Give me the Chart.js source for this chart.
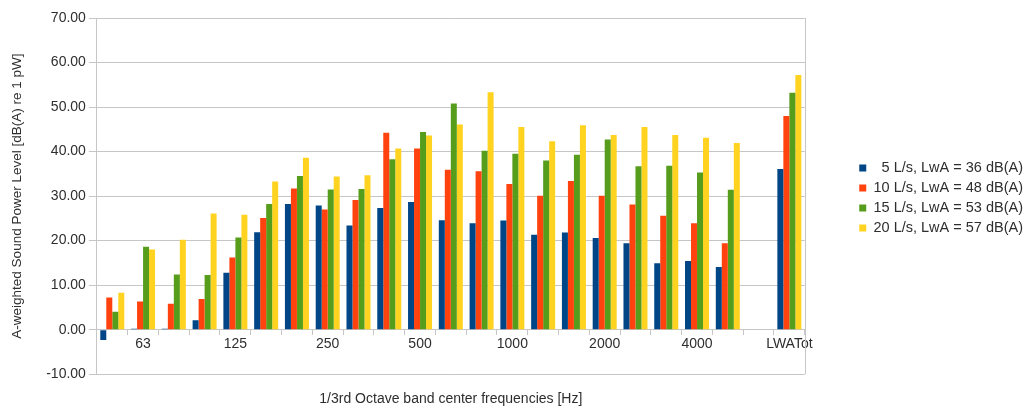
<!DOCTYPE html>
<html>
<head>
<meta charset="utf-8">
<title>A-weighted sound power level per 1/3 octave band</title>
<script src="https://cdn.jsdelivr.net/npm/chart.js@4.4.1/dist/chart.umd.min.js"></script>
<style>
  html, body { margin: 0; padding: 0; background: #ffffff; }
  canvas { display: block; }
</style>
</head>
<body>
<canvas id="lwaChart" width="1028" height="410"></canvas>
<script>
// 1/3 octave band centre frequencies (Hz); the blank slot is the gap before the total
const bands = ['50', '63', '80', '100', '125', '160', '200', '250', '315', '400', '500', '630',
    '800', '1000', '1250', '1600', '2000', '2500', '3150', '4000', '5000', '', 'LWATot'];

// dB(A) re 1 pW, one array per airflow
const flow5 = [-2.3, 0.2, 0.2, 2.1, 12.8, 21.9, 28.2, 27.9, 23.4, 27.3, 28.7, 24.6,
    23.9, 24.5, 21.3, 21.8, 20.6, 19.4, 14.9, 15.4, 14.1, null, 36.1];
const flow10 = [7.2, 6.3, 5.8, 6.9, 16.2, 25.1, 31.7, 27.0, 29.1, 44.2, 40.7, 35.9,
    35.6, 32.7, 30.1, 33.4, 30.1, 28.1, 25.6, 23.9, 19.4, null, 48.0];
const flow15 = [4.0, 18.6, 12.4, 12.3, 20.7, 28.2, 34.5, 31.5, 31.6, 38.3, 44.4, 50.8,
    40.2, 39.5, 38.0, 39.3, 42.7, 36.7, 36.8, 35.3, 31.4, null, 53.2];
const flow20 = [8.3, 18.0, 20.2, 26.1, 25.8, 33.3, 38.6, 34.4, 34.7, 40.7, 43.6, 46.1,
    53.3, 45.5, 42.3, 45.9, 43.7, 45.5, 43.7, 43.1, 41.9, null, 57.2];

const seriesNames = [
    '  5 L/s, LwA = 36 dB(A)',
    '10 L/s, LwA = 48 dB(A)',
    '15 L/s, LwA = 53 dB(A)',
    '20 L/s, LwA = 57 dB(A)'
];
const seriesColors = ['#004586', '#ff420e', '#579d1c', '#ffd320'];

const yTicks = { min: -10, max: 70, step: 10 };

const textColor = '#2e2e2e';
const gridColor = '#c6c6c6';
const fontFamily = '"Liberation Sans", Arial, Helvetica, sans-serif';

// right-hand side of the plot wall
const plotFrame = {
    id: 'plotFrame',
    beforeDatasetsDraw(chart) {
        const { ctx, chartArea } = chart;
        ctx.save();
        ctx.strokeStyle = gridColor;
        ctx.lineWidth = 1;
        ctx.beginPath();
        ctx.moveTo(Math.round(chartArea.right) + 0.5, chartArea.top);
        ctx.lineTo(Math.round(chartArea.right) + 0.5, chartArea.bottom);
        ctx.stroke();
        ctx.restore();
    }
};

// white space between the plot and the legend entries, and a small lift
const legendExtraWidth = 44;
const legendShiftX = 49;
const legendShiftY = -16;
const legendSpacer = {
    id: 'legendSpacer',
    beforeInit(chart) {
        const fit = chart.legend.fit;
        chart.legend.fit = function () {
            fit.call(this);
            this.width += legendExtraWidth;
        };
    },
    afterLayout(chart) {
        const lg = chart.legend;
        lg.left += legendShiftX;
        lg.top += legendShiftY;
        lg.bottom += legendShiftY;
    }
};

const datasets = [flow5, flow10, flow15, flow20].map((values, i) => ({
    label: seriesNames[i],
    data: values,
    backgroundColor: seriesColors[i],
    borderWidth: 0,
    categoryPercentage: 0.78,
    barPercentage: 1.0
}));

new Chart(document.getElementById('lwaChart'), {
    type: 'bar',
    data: { labels: bands, datasets: datasets },
    plugins: [plotFrame, legendSpacer],
    options: {
        responsive: false,
        animation: false,
        layout: { padding: { left: 0, top: 18, right: 0, bottom: 0 } },
        plugins: {
            tooltip: { enabled: false },
            legend: {
                position: 'right',
                labels: {
                    boxWidth: 7,
                    boxHeight: 7,
                    padding: 5.5,
                    color: textColor,
                    font: { family: fontFamily, size: 14.5 }
                }
            }
        },
        scales: {
            x: {
                type: 'category',
                position: { y: 0 },
                offset: true,
                grid: {
                    offset: true,
                    drawOnChartArea: false,
                    drawTicks: true,
                    tickLength: 5,
                    color: gridColor
                },
                border: { display: true, color: gridColor },
                ticks: {
                    autoSkip: false,
                    maxRotation: 0,
                    padding: 1,
                    color: textColor,
                    font: { family: fontFamily, size: 14 },
                    callback: (value, index) => (index % 3 === 1 ? bands[index] : '')
                }
            },
            xTitle: {
                type: 'category',
                position: 'bottom',
                grid: { display: false, drawTicks: false },
                border: { display: false },
                ticks: { display: false },
                title: {
                    display: true,
                    text: '1/3rd Octave band center frequencies [Hz]',
                    color: textColor,
                    font: { family: fontFamily, size: 14 },
                    padding: { top: 17, bottom: 2 }
                }
            },
            y: {
                min: yTicks.min,
                max: yTicks.max,
                grid: { color: gridColor, tickLength: 8 },
                border: { display: true, color: gridColor },
                ticks: {
                    stepSize: yTicks.step,
                    padding: 3,
                    color: textColor,
                    font: { family: fontFamily, size: 14 },
                    callback: (v) => Number(v).toFixed(2)
                },
                title: {
                    display: true,
                    text: 'A-weighted Sound Power Level [dB(A) re 1 pW]',
                    color: textColor,
                    font: { family: fontFamily, size: 13.5 },
                    padding: { top: 9, bottom: 18 }
                }
            }
        }
    }
});
</script>
</body>
</html>
